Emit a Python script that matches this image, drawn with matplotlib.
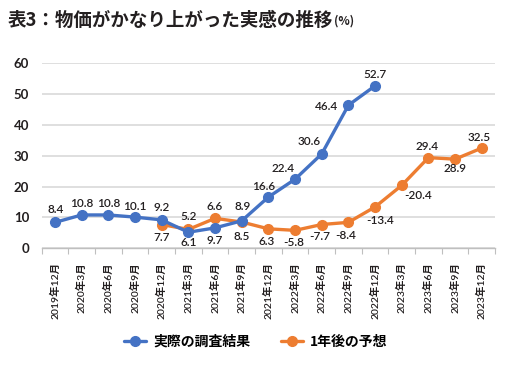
import matplotlib
matplotlib.use("Agg")
import matplotlib.pyplot as plt
from matplotlib.ticker import FixedLocator

plt.rcParams['font.family'] = ['Lato', 'Noto Sans CJK JP', 'DejaVu Sans']

categories = ["2019年12月", "2020年3月", "2020年6月", "2020年9月", "2020年12月",
              "2021年3月", "2021年6月", "2021年9月", "2021年12月", "2022年3月",
              "2022年6月", "2022年9月", "2022年12月", "2023年3月", "2023年6月",
              "2023年9月", "2023年12月"]

actual = [8.4, 10.8, 10.8, 10.1, 9.2, 5.2, 6.6, 8.9, 16.6, 22.4, 30.6, 46.4, 52.7]
actual_labels = ["8.4", "10.8", "10.8", "10.1", "9.2", "5.2", "6.6", "8.9",
                 "16.6", "22.4", "30.6", "46.4", "52.7"]

forecast = [7.7, 6.1, 9.7, 8.5, 6.3, 5.8, 7.7, 8.4, 13.4, 20.4, 29.4, 28.9, 32.5]
forecast_labels = ["7.7", "6.1", "9.7", "8.5", "6.3", "-5.8", "-7.7", "-8.4",
                   "-13.4", "-20.4", "29.4", "28.9", "32.5"]
forecast_start = 4

series_names = ["実際の調査結果", "1年後の予想"]
yticks = [0, 10, 20, 30, 40, 50, 60]

# label offsets in pixels (dx, dy)
actual_offsets = [(1, 13), (0, 11), (0, 11), (0, 11), (0, 12), (0, 16), (0, 21), (1, 14),
                  (-5, 11), (-12, 11), (-13, 12), (-22, -1), (0, 11)]
forecast_offsets = [(0, -13), (0, -13), (0, -22), (0, -14), (-2, -13), (-1, -12),
                    (-2, -12), (-3, -13), (5, -14), (16, -10), (-1, 11), (0, -9), (-3, 11)]

BLUE = "#4472C4"
ORANGE = "#ED7D31"
TEXT = "#231F20"

fig = plt.figure(figsize=(5.12, 3.79), dpi=100)
ax = fig.add_axes([0.0814, 0.345, 0.967 - 0.0814, 0.833 - 0.345])

x_actual = list(range(len(actual)))
x_fore = [forecast_start + i for i in range(len(forecast))]

ax.plot(x_actual, actual, color=BLUE, lw=2.4, marker='o', ms=7,
        label=series_names[0], zorder=4, solid_capstyle='round')
ax.plot(x_fore, forecast, color=ORANGE, lw=2.4, marker='o', ms=7,
        label=series_names[1], zorder=3, solid_capstyle='round')

for xi, v, t, (dx, dy) in zip(x_actual, actual, actual_labels, actual_offsets):
    ax.annotate(t, (xi, v), xytext=(dx, dy), textcoords='offset pixels',
                ha='center', va='center', fontsize=8.5, color=TEXT, fontweight='semibold', zorder=6)
for xi, v, t, (dx, dy) in zip(x_fore, forecast, forecast_labels, forecast_offsets):
    ax.annotate(t, (xi, v), xytext=(dx, dy), textcoords='offset pixels',
                ha='center', va='center', fontsize=8.5, color=TEXT, fontweight='semibold', zorder=6)

ax.set_xlim(-0.5, len(categories) - 0.5)
ax.set_ylim(0, 60)
ax.set_yticks(yticks)
ax.set_yticklabels([str(v) for v in yticks], fontsize=9.5, color=TEXT, fontweight='bold')
ax.tick_params(axis='y', length=0, pad=9)

ax.set_xticks(range(len(categories)))
ax.set_xticklabels(categories, rotation=90, fontsize=7.5, color=TEXT, fontweight='semibold')
ax.tick_params(axis='x', which='major', length=0, pad=10)
ax.xaxis.set_minor_locator(FixedLocator([i - 0.5 for i in range(len(categories) + 1)]))
ax.tick_params(axis='x', which='minor', length=4, width=0.8, color="#BFBFBF")

ax.grid(axis='y', color="#D9D9D9", lw=1.2)
ax.set_axisbelow(True)
for s in ['top', 'right', 'left']:
    ax.spines[s].set_visible(False)
ax.spines['bottom'].set_color("#BFBFBF")
ax.spines['bottom'].set_linewidth(1.0)

leg = fig.legend(loc='center', bbox_to_anchor=(0.5, 0.098), ncol=2, frameon=False,
                 handlelength=1.6, columnspacing=2.2, handletextpad=0.5,
                 prop={'size': 10, 'weight': 'bold', 'family': ['Noto Sans CJK JP']})

t1 = fig.text(8 / 512, 1 - 20 / 379, "表3：物価がかなり上がった実感の推移", fontsize=13.3,
              fontweight='bold', family=['Noto Sans CJK JP'], color=TEXT, ha='left', va='center')
fig.canvas.draw()
bb = t1.get_window_extent()
fig.text(bb.x1 / fig.bbox.width + 0.002, 1 - 21 / 379, "(%)", fontsize=8.5,
         fontweight='bold', family=['Noto Sans CJK JP'], color=TEXT, ha='left', va='center')

fig.savefig("out.png", dpi=100)
